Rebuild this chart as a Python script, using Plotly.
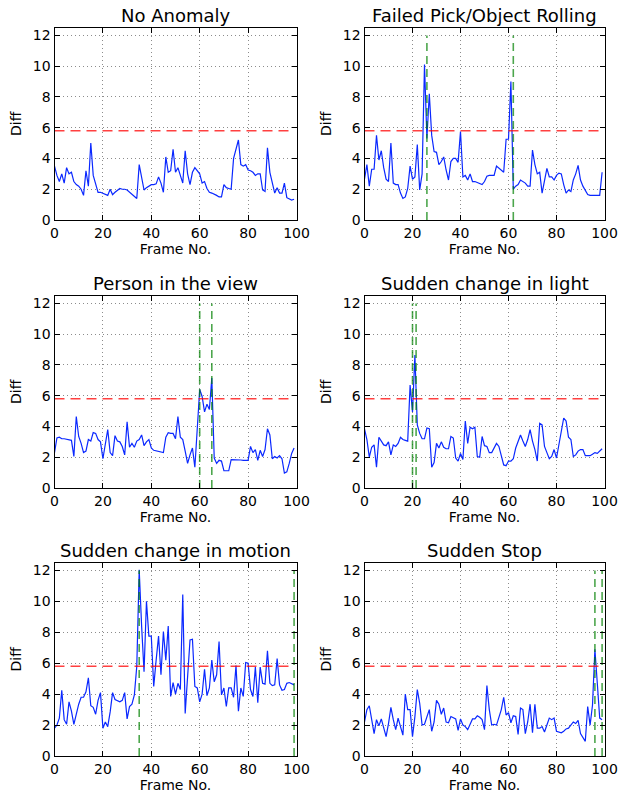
import plotly.graph_objects as go

frames = list(range(100))
threshold = 5.8

titles = ["No Anomaly", "Failed Pick/Object Rolling", "Person in the view",
          "Sudden change in light", "Sudden change in motion", "Sudden Stop"]

no_anomaly = [3.5, 2.9, 2.5, 3.0, 2.4, 3.4, 3.0, 3.1, 2.5, 2.3, 2.2, 2.0, 1.6, 3.2, 2.2, 5.0, 2.9, 2.3, 1.8, 1.8,
              1.75, 1.7, 1.6, 2.0, 1.65, 1.8, 1.95, 2.05, 2.0, 2.0, 1.95, 1.8, 1.7, 1.55, 1.4, 3.6, 2.7, 1.95, 2.1, 2.2,
              2.3, 2.3, 2.35, 2.8, 2.4, 1.8, 4.1, 3.1, 3.2, 4.6, 3.1, 3.4, 2.9, 2.4, 4.5, 3.0, 2.3, 3.1, 3.4, 3.2,
              3.0, 2.4, 2.5, 2.05, 1.8, 1.75, 1.7, 1.6, 1.5, 1.5, 2.3, 2.1, 2.05, 2.0, 4.0, 4.6, 5.2, 3.6, 3.5, 3.6,
              3.25, 3.2, 3.1, 2.9, 3.0, 3.0, 1.95, 1.85, 4.7, 3.1, 2.4, 1.75, 2.1, 1.75, 1.75, 2.4, 1.45, 1.4, 1.3, 1.35]

failed_pick = [2.65, 3.6, 2.2, 3.3, 3.3, 5.5, 3.9, 4.5, 3.4, 2.65, 2.5, 5.0, 2.4, 2.3, 2.3, 1.75, 1.4, 1.5, 2.05, 3.5,
               2.65, 2.8, 4.9, 1.95, 3.0, 10.1, 5.3, 8.2, 5.5, 4.45, 4.4, 3.6, 3.8, 4.1, 3.25, 2.6, 3.8, 4.0, 4.0, 3.75,
               5.75, 2.8, 2.9, 2.6, 3.0, 2.5, 2.5, 2.45, 2.4, 2.3, 2.5, 2.85, 2.9, 2.9, 2.9, 3.5, 3.35, 3.2, 3.1, 5.25,
               5.25, 9.0, 2.0, 2.2, 2.3, 2.6, 2.5, 2.4, 2.2, 2.2, 4.55, 3.6, 3.0, 3.1, 1.75, 2.5, 3.35, 2.8, 2.8, 2.6,
               2.9, 3.05, 3.0, 2.3, 1.75, 1.95, 1.85, 2.6, 3.0, 3.55, 2.6, 2.2, 1.95, 1.65, 1.6, 1.6, 1.6, 1.6, 1.6, 3.1]

person_view = [2.3, 3.25, 3.3, 3.2, 3.2, 3.15, 3.1, 3.1, 2.05, 4.65, 3.35, 2.9, 2.3, 2.4, 3.15, 3.05, 3.6, 3.55, 3.15, 3.0,
               1.9, 2.9, 3.8, 2.3, 2.1, 3.4, 3.05, 3.0, 2.7, 2.15, 4.3, 2.65, 2.9, 2.65, 3.05, 3.15, 3.45, 2.75, 3.0, 3.15,
               2.6, 2.45, 2.4, 2.35, 2.3, 2.3, 3.3, 3.6, 3.55, 3.55, 3.2, 4.65, 3.3, 3.15, 2.4, 1.6, 2.15, 2.6, 1.35, 3.55,
               6.4, 5.95, 4.95, 5.45, 5.1, 7.15, 1.95, 1.6, 1.8, 1.75, 1.12, 1.12, 1.12, 1.85, 1.85, 1.85, 1.85, 1.82, 1.8, 1.8,
               1.8, 2.7, 2.3, 2.5, 1.8, 2.45, 2.05, 2.5, 3.85, 3.45, 1.9, 2.05, 1.95, 2.1, 1.9, 0.97, 1.05, 1.6, 2.25, 2.6]

light_change = [3.85, 3.15, 2.0, 2.65, 2.8, 1.35, 3.3, 3.0, 2.8, 2.75, 3.0, 2.15, 2.8, 2.7, 2.9, 3.3, 3.15, 3.1, 3.05, 6.7,
                4.95, 8.65, 4.1, 3.55, 3.2, 3.2, 3.9, 3.85, 1.35, 1.65, 2.9, 2.6, 3.0, 2.65, 2.55, 2.55, 3.35, 3.25, 1.95, 1.75,
                2.25, 1.85, 4.35, 2.9, 3.95, 3.85, 3.95, 2.05, 2.0, 3.35, 2.75, 2.7, 2.3, 2.3, 2.6, 2.9, 2.7, 2.05, 1.5, 1.45,
                1.75, 1.75, 1.9, 2.6, 3.0, 3.45, 3.05, 2.7, 3.15, 3.8, 3.05, 2.5, 1.75, 4.2, 4.1, 2.7, 2.3, 1.9, 2.05, 2.5,
                1.95, 2.8, 3.55, 4.55, 4.35, 3.3, 3.15, 2.05, 2.15, 2.4, 2.5, 2.5, 2.1, 2.1, 2.1, 2.2, 2.3, 2.25, 2.4, 2.55]

motion_change = [1.8, 2.0, 2.45, 4.25, 2.35, 2.05, 3.5, 2.9, 2.05, 2.75, 3.35, 3.8, 3.8, 4.15, 5.05, 3.25, 3.15, 2.7, 3.6, 4.1,
                 1.8, 2.2, 1.9, 2.85, 4.1, 3.65, 3.6, 3.5, 3.6, 4.1, 2.4, 3.2, 3.35, 3.95, 5.8, 12.05, 8.4, 5.45, 10.0, 7.75,
                 7.75, 4.5, 6.2, 7.75, 5.25, 8.05, 6.2, 8.4, 3.85, 4.75, 4.0, 4.7, 4.3, 10.45, 2.75, 5.2, 7.5, 7.55, 4.5, 4.4,
                 3.5, 4.0, 5.6, 3.9, 4.4, 6.2, 4.8, 5.25, 7.4, 3.95, 4.4, 3.2, 4.4, 4.4, 3.8, 5.85, 2.9, 4.4, 3.85, 6.05,
                 6.0, 4.3, 3.85, 5.75, 3.45, 5.75, 4.7, 4.65, 6.8, 4.7, 4.55, 4.6, 6.3, 4.6, 4.25, 4.3, 4.7, 4.75, 4.65, 4.6]

sudden_stop = [2.2, 3.0, 3.25, 2.2, 1.45, 2.35, 1.95, 2.4, 1.9, 1.25, 2.1, 3.15, 2.35, 1.7, 2.45, 1.9, 1.35, 4.0, 3.0, 3.0,
               1.25, 2.55, 4.3, 3.4, 2.0, 2.05, 2.5, 3.0, 1.6, 2.2, 3.6, 3.35, 2.7, 3.1, 2.2, 2.15, 2.55, 2.45, 2.4, 1.65,
               2.4, 2.0, 1.9, 1.7, 2.1, 2.4, 2.4, 2.6, 2.5, 2.35, 1.7, 4.55, 3.0, 2.0, 2.05, 2.0, 2.5, 3.0, 3.8, 2.65,
               2.8, 2.15, 2.6, 2.55, 1.4, 3.1, 3.0, 1.45, 2.2, 3.35, 1.5, 3.35, 1.8, 1.8, 1.9, 1.55, 2.0, 2.45, 2.35, 2.45,
               1.6, 1.55, 1.5, 1.6, 1.75, 1.8, 2.0, 2.2, 2.1, 2.3, 1.45, 1.15, 0.95, 3.2, 2.0, 3.3, 6.9, 4.7, 2.45, 2.35]

series = [no_anomaly, failed_pick, person_view, light_change, motion_change, sudden_stop]
anomaly_marks = [[], [26, 62], [60, 65], [20, 21.5], [35, 99], [96, 99]]

x_ticks = [0, 20, 40, 60, 80, 100]
y_ticks = [0, 2, 4, 6, 8, 10, 12]

W, H = 621, 796
col_px = [(54.5, 296.5), (364.5, 604.5)]
row_px = [(27.7, 220.0), (295.7, 488.0), (562.7, 756.0)]

fig = go.Figure()
FONT = "DejaVu Sans"

for i in range(6):
    r, c = divmod(i, 2)
    ax = "" if i == 0 else str(i + 1)
    xa, ya = "x" + ax, "y" + ax
    fig.add_trace(go.Scatter(x=frames, y=series[i], mode="lines",
                             line=dict(color="#0a28ff", width=1.2),
                             xaxis=xa, yaxis=ya, showlegend=False))
    fig.add_trace(go.Scatter(x=[frames[0], frames[-1]], y=[threshold, threshold], mode="lines",
                             line=dict(color="rgba(255,0,0,0.75)", width=1.4, dash="10px,6px"),
                             xaxis=xa, yaxis=ya, showlegend=False))
    for v in anomaly_marks[i]:
        fig.add_trace(go.Scatter(x=[v, v], y=[0, 12], mode="lines",
                                 line=dict(color="rgba(0,128,0,0.7)", width=1.6, dash="8px,5px"),
                                 xaxis=xa, yaxis=ya, showlegend=False))
    x0, x1 = col_px[c]
    y0, y1 = row_px[r]
    common = dict(showline=True, linecolor="black", linewidth=1, mirror="ticks",
                  ticks="inside", ticklen=5, tickcolor="black", tickwidth=1,
                  showgrid=True, gridcolor="#8c8c8c", griddash="1px,3px", gridwidth=1,
                  zeroline=False, automargin=False,
                  tickfont=dict(family=FONT, size=14, color="black"))
    fig.layout["xaxis" + ax] = dict(domain=[x0 / W, x1 / W], range=[0, 100], tickvals=x_ticks,
                                    anchor=ya, title=dict(text="Frame No.", font=dict(family=FONT, size=14, color="black"),
                                                          standoff=4), **common)
    fig.layout["yaxis" + ax] = dict(domain=[1 - y1 / H, 1 - y0 / H], range=[0, 12.5], tickvals=y_ticks,
                                    anchor=xa, title=dict(text="Diff", font=dict(family=FONT, size=14, color="black"),
                                                          standoff=7), **common)
    fig.add_annotation(text=titles[i], x=(x0 + x1) / 2 / W, y=1 - (y0 - 12.3) / H, xref="paper", yref="paper",
                       xanchor="center", yanchor="middle", showarrow=False, borderpad=0,
                       font=dict(family=FONT, size=18, color="black"))

fig.update_layout(width=W, height=H, margin=dict(l=0, r=0, t=0, b=0),
                  paper_bgcolor="white", plot_bgcolor="white", template="none",
                  font=dict(family=FONT, color="black"))

# drop the browser's default 8px page margin so the figure sits at the window corner
fig.write_html("out.html", config={"displayModeBar": False},
               post_script="document.body.style.margin='0';document.body.style.overflow='hidden';")
